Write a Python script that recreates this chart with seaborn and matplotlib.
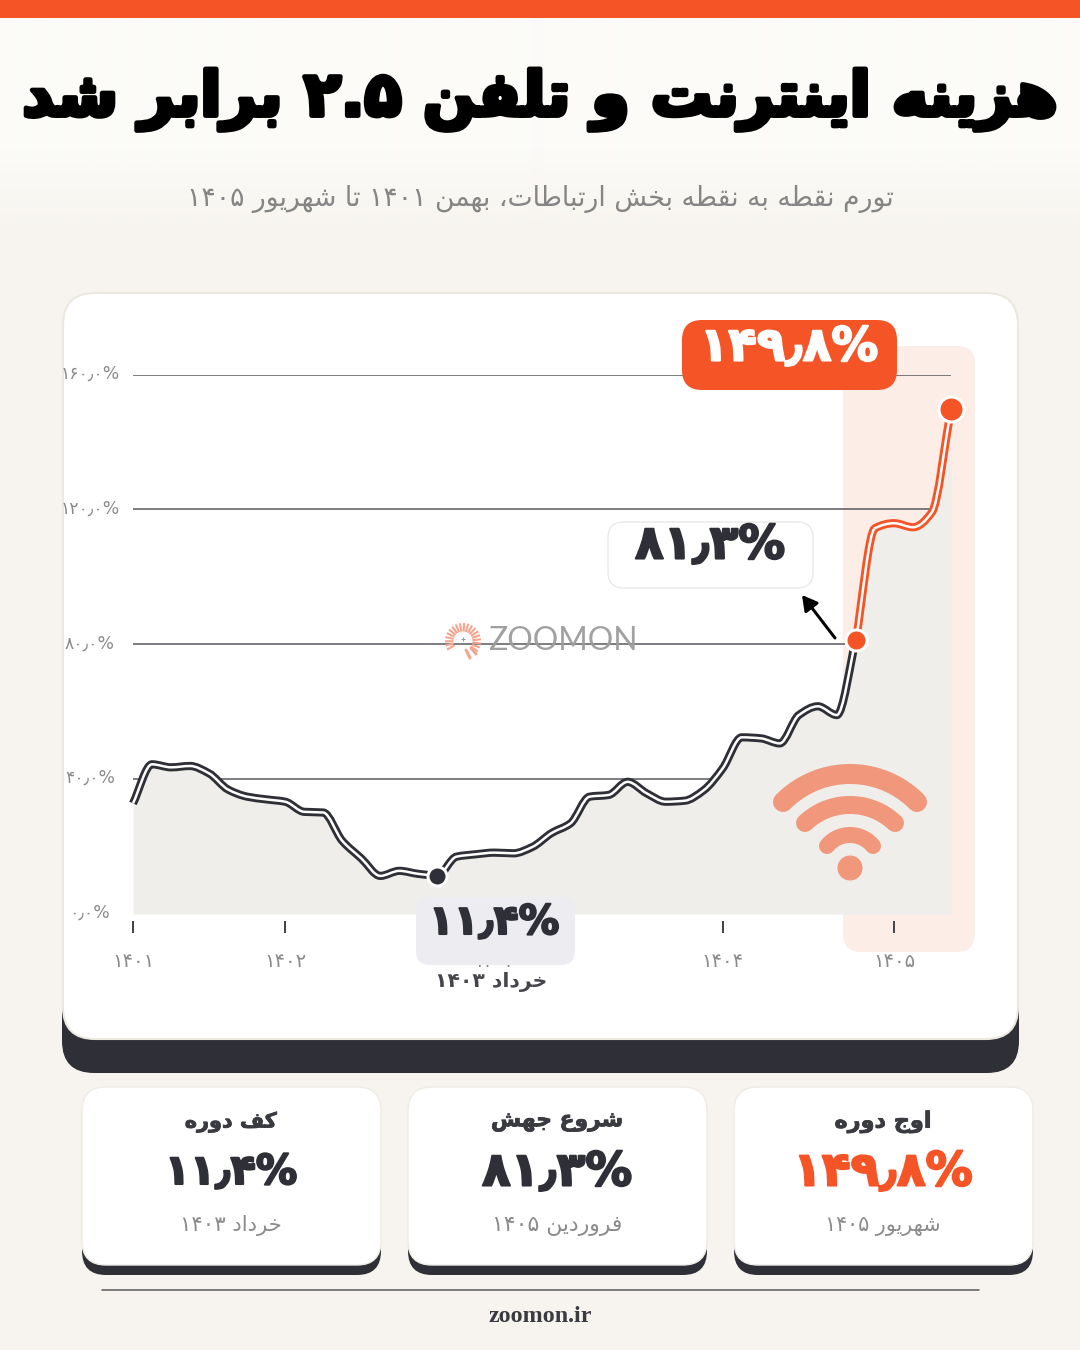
import numpy as np
import matplotlib
matplotlib.use("Agg")
import matplotlib.pyplot as plt
import matplotlib.patheffects as pe
from matplotlib.patches import FancyBboxPatch, Rectangle, Circle, FancyArrowPatch
from matplotlib.path import Path
from matplotlib.colors import to_rgb
from matplotlib.transforms import IdentityTransform, ScaledTranslation
import seaborn as sns

# ---------- data ----------
inflation = [32.8, 44.4, 43.5, 43.9, 41.7, 36.9, 34.8, 34.0, 33.3, 30.3, 30.1, 21.7,
             16.5, 11.3, 12.8, 11.9, 11.4, 17.0, 17.7, 18.2, 18.0, 19.9, 24.0, 26.9,
             34.8, 35.3, 39.2, 35.8, 33.3, 33.6, 36.7, 43.2, 52.4, 52.1, 50.6, 59.0,
             61.6, 59.0, 81.3, 114.4, 115.9, 114.7, 119.2, 149.8]
low_idx, jump_idx, peak_idx = 16, 38, 43
y_ticks = [0, 40, 80, 120, 160]
y_labels = ["۰٫۰%", "۴۰٫۰%", "۸۰٫۰%", "۱۲۰٫۰%", "۱۶۰٫۰%"]
x_ticks = [0, 8, 19, 31, 40]
x_labels = ["۱۴۰۱", "۱۴۰۲", "۱۴۰۳", "۱۴۰۴", "۱۴۰۵"]
title = "هزینه اینترنت و تلفن ۲.۵ برابر شد"
subtitle = "تورم نقطه به نقطه بخش ارتباطات، بهمن ۱۴۰۱ تا شهریور ۱۴۰۵"
low_note = "خرداد ۱۴۰۳"
low_val, jump_val, peak_val = "۱۱٫۴%", "۸۱٫۳%", "۱۴۹٫۸%"
card_heads = ["کف دوره", "شروع جهش", "اوج دوره"]
card_values = [low_val, jump_val, peak_val]
card_dates = ["خرداد ۱۴۰۳", "فروردین ۱۴۰۵", "شهریور ۱۴۰۵"]

# ---------- colours ----------
BG = "#F7F4EF"; ORANGE = "#F55427"; DARK = "#2F3037"; FILL = "#EFEEEA"; PINK = "#FDEDE7"
GRAY = "#8B8B8B"; WIFI = "#F0977C"; LOWBOX = "#ECECF1"

# ---------- Persian shaping (matplotlib has no shaping or bidi) ----------
FORMS = {
 "ا": (0xFE8D, 0xFE8E), "د": (0xFEA9, 0xFEAA), "ر": (0xFEAD, 0xFEAE), "ز": (0xFEAF, 0xFEB0), "و": (0xFEED, 0xFEEE),
 "ب": (0xFE8F, 0xFE90, 0xFE91, 0xFE92), "ت": (0xFE95, 0xFE96, 0xFE97, 0xFE98),
 "ج": (0xFE9D, 0xFE9E, 0xFE9F, 0xFEA0), "خ": (0xFEA5, 0xFEA6, 0xFEA7, 0xFEA8),
 "ش": (0xFEB5, 0xFEB6, 0xFEB7, 0xFEB8), "ط": (0xFEC1, 0xFEC2, 0xFEC3, 0xFEC4),
 "ع": (0xFEC9, 0xFECA, 0xFECB, 0xFECC), "ف": (0xFED1, 0xFED2, 0xFED3, 0xFED4),
 "ق": (0xFED5, 0xFED6, 0xFED7, 0xFED8), "ک": (0xFB8E, 0xFB8F, 0xFB90, 0xFB91),
 "ل": (0xFEDD, 0xFEDE, 0xFEDF, 0xFEE0), "م": (0xFEE1, 0xFEE2, 0xFEE3, 0xFEE4),
 "ن": (0xFEE5, 0xFEE6, 0xFEE7, 0xFEE8), "ه": (0xFEE9, 0xFEEA, 0xFEEB, 0xFEEC),
 "ی": (0xFBFC, 0xFBFD, 0xFBFE, 0xFBFF),
}
def shape(s):
    out = []
    for i, c in enumerate(s):
        f = FORMS.get(c)
        if f is None:
            out.append(c); continue
        prev = s[i-1] if i else ""
        nxt = s[i+1] if i + 1 < len(s) else ""
        a = prev in FORMS and len(FORMS[prev]) == 4
        b = nxt in FORMS and len(f) == 4
        idx = (3 if b else 1) if a else (2 if b else 0)
        out.append(chr(f[idx]))
    return "".join(out)
def fa(s):
    s = shape(s)
    tokens, cur, ltr = [], "", None
    for c in s:
        is_ltr = c in "۰۱۲۳۴۵۶۷۸۹."
        if ltr is None or is_ltr == ltr:
            cur += c
        else:
            tokens.append((cur, ltr)); cur = c
        ltr = is_ltr
    tokens.append((cur, ltr))
    return "".join(t if l else t[::-1] for t, l in reversed(tokens))

# ---------- figure ----------
sns.set_theme(style="white")
plt.rcParams["font.family"] = ["DejaVu Sans"]
W, H = 1080, 1350
fig = plt.figure(figsize=(10.8, 13.5), dpi=100, facecolor=BG)
px = 0.72  # points per pixel

def overlay(z):
    a = fig.add_axes([0, 0, 1, 1], zorder=z)
    a.set_xlim(0, W); a.set_ylim(H, 0); a.axis("off"); a.patch.set_alpha(0)
    return a
bg = overlay(0)
fg = overlay(2)

def rbox(a, x0, y0, x1, y1, r, fc, ec="none", lw=0, z=1):
    p = FancyBboxPatch((x0, y0), x1 - x0, y1 - y0, boxstyle=f"round,pad=0,rounding_size={r}",
                       fc=fc, ec=ec, lw=lw, zorder=z, mutation_aspect=1)
    a.add_patch(p)
    return p

renderer = fig.canvas.get_renderer()
def ftext(a, cx, cy, s, width, color, bold=False, family="DejaVu Sans", z=5, heavy=0, **kw):
    t = a.text(cx, cy, s, ha="center", va="center", color=color, fontsize=20,
               fontweight="bold" if bold else "normal", family=family, zorder=z, **kw)
    w = t.get_window_extent(renderer).width
    t.set_fontsize(20 * width / w)
    if heavy:
        t.set_path_effects([pe.withStroke(linewidth=heavy, foreground=color)])
    return t

# soft light glow behind the headline
rows = np.arange(18, 240)
alpha = np.clip((235 - rows) / 85, 0, 1)
glow = np.zeros((len(rows), 1, 4))
glow[..., :3] = to_rgb("#FCFBF8")
glow[:, 0, 3] = alpha
bg.imshow(glow, extent=(0, W, 240, 18), aspect="auto", zorder=1, interpolation="bilinear")
bg.set_xlim(0, W); bg.set_ylim(H, 0)

bg.add_patch(Rectangle((0, 0), W, 18, fc=ORANGE, ec="none", zorder=3))
rbox(bg, 62, 320, 1019, 1073, 32, DARK, z=1)
rbox(bg, 63, 293, 1018, 1039, 32, "white", ec="#EBE8E1", lw=1.5, z=2)
rbox(bg, 843, 346, 975, 952, 18, PINK, z=3)

for x0 in (82, 408, 734):
    rbox(bg, x0, 1110, x0 + 299, 1275, 24, DARK, z=1)
    rbox(bg, x0, 1087, x0 + 299, 1265, 24, "white", ec="#EFECE6", lw=1, z=2)
bg.plot([102, 979], [1290, 1290], color="#55555A", lw=1.5 * px, zorder=2)

# chart axes
top, base, tick_base = 374.5, 914.0, 921.0
unit = (base - top) / 160
ylow = -(tick_base - base) / unit
ax = fig.add_axes([133 / W, 1 - tick_base / H, (951 - 133) / W, (tick_base - top) / H], zorder=1)
ax.patch.set_alpha(0)
idx = np.arange(len(inflation))
vals = np.array(inflation)
ax.fill_between(idx, 0, vals, color=FILL, lw=0, zorder=2)

class SmoothStroke(pe.AbstractPathEffect):
    """Draws the line's own vertices as a monotone cubic curve, in display space."""
    def __init__(self, width, color):
        super().__init__()
        self.width, self.color = width, color
    def draw_path(self, renderer, gc, tpath, affine, rgbFace=None):
        v = affine.transform(tpath.vertices)
        dx = np.diff(v[:, 0]); dy = np.diff(v[:, 1]); s = dy / dx
        m = np.zeros(len(v))
        for i in range(1, len(v) - 1):
            if s[i - 1] * s[i] > 0:
                m[i] = 2 * s[i - 1] * s[i] / (s[i - 1] + s[i])
        m[0], m[-1] = s[0], s[-1]
        verts, codes = [tuple(v[0])], [Path.MOVETO]
        for i in range(len(dx)):
            h = dx[i] / 3
            verts += [(v[i, 0] + h, v[i, 1] + m[i] * h), (v[i + 1, 0] - h, v[i + 1, 1] - m[i + 1] * h), tuple(v[i + 1])]
            codes += [Path.CURVE4] * 3
        g = renderer.new_gc()
        g.copy_properties(gc)
        g.set_linewidth(self.width)
        g.set_foreground(self.color)
        g.set_joinstyle("round")
        g.set_capstyle("butt")
        renderer.draw_path(g, Path(verts, codes), IdentityTransform())
        g.restore()

def dbl(i0, i1, col):
    sns.lineplot(x=idx[i0:i1], y=vals[i0:i1], ax=ax, color="white", lw=2.4 * px, zorder=4,
                 clip_on=False, errorbar=None,
                 path_effects=[SmoothStroke(8.2 * px, col), SmoothStroke(2.5 * px, "white")])
dbl(0, jump_idx + 1, DARK)
dbl(jump_idx, peak_idx + 1, ORANGE)

for i, col, ms in ((low_idx, DARK, 19), (jump_idx, ORANGE, 21), (peak_idx, ORANGE, 25)):
    ax.plot([i], [vals[i]], "o", color=col, ms=ms * px, mec="white", mew=3 * px, zorder=6, clip_on=False)

ax.set_xlim(0, 43); ax.set_ylim(ylow, 160)
ax.set_yticks(y_ticks, y_labels)
ax.set_xticks(x_ticks, x_labels)
ax.grid(axis="y", color="#55565A", lw=1.5 * px, zorder=1)
ax.set_axisbelow(True)
ax.yaxis.get_gridlines()[0].set_visible(False)
ax.grid(axis="x", visible=False)
for s in ax.spines.values():
    s.set_visible(False)
ax.tick_params(axis="y", length=0, pad=43 * px, labelsize=12.4, labelcolor=GRAY)
ax.tick_params(axis="x", length=12 * px, width=2 * px, color="#45464B", pad=19 * px,
               labelsize=14, labelcolor=GRAY, bottom=True)
up = ScaledTranslation(0, 3 / 100, fig.dpi_scale_trans)
for lab in ax.get_yticklabels():
    lab.set_ha("center")
    lab.set_transform(lab.get_transform() + up)
ax.set_xlabel(""); ax.set_ylabel("")

# headings
ftext(fg, 540, 100, fa(title), 1034, "black", bold=True, heavy=3.5)
ftext(fg, 540, 199, fa(subtitle), 704, "#858585")

# value callouts
rbox(fg, 682, 320, 897, 390, 20, ORANGE, z=3)
ftext(fg, 789, 348, peak_val, 178, "white", bold=True, heavy=1.5)
rbox(fg, 608, 522, 813, 588, 16, "white", ec="#E9E9E9", lw=1, z=3)
ftext(fg, 710, 546, jump_val, 150, DARK, bold=True, heavy=1.5)
rbox(fg, 416, 897, 575, 965, 14, LOWBOX, z=3)
ftext(fg, 494, 923, low_val, 130, DARK, bold=True, heavy=1.5)
ftext(fg, 491, 982, fa(low_note), 112, "#45464B", bold=True)

fg.add_patch(FancyArrowPatch((835, 638), (802, 595), arrowstyle="-|>,head_length=5,head_width=2.8",
                             color="black", lw=3 * px, mutation_scale=1.8, zorder=5, shrinkA=0, shrinkB=0))

# wifi glyph
for (x0, x1, ye, yt, lw) in ((783, 917, 802, 774, 20), (805, 895, 823, 805, 18), (827, 873, 846, 835, 16)):
    hw, h = (x1 - x0) / 2, ye - yt
    R = (h * h + hw * hw) / (2 * h)
    th = np.linspace(-np.arcsin(hw / R), np.arcsin(hw / R), 60)
    fg.plot((x0 + x1) / 2 + R * np.sin(th), yt + R - R * np.cos(th), color=WIFI, lw=lw * px,
            solid_capstyle="round", zorder=4)
fg.add_patch(Circle((850, 868), 12.5, fc=WIFI, ec="none", zorder=4))

# watermark
sx, sy = 463, 641
for ang in np.arange(-35, 215, 13.5):
    a = np.deg2rad(ang)
    r0, r1 = 9.5, 18
    fg.plot([sx + r0 * np.cos(a), sx + r1 * np.cos(a)], [sy - r0 * np.sin(a), sy - r1 * np.sin(a)],
            color="#F5A48D", lw=2.1 * px, solid_capstyle="butt", zorder=4)
fg.plot([466, 470], [650, 658], color="#F5A48D", lw=3 * px, zorder=4)
fg.plot([471, 476], [648, 654], color="#F5A48D", lw=3 * px, zorder=4)
fg.plot([463], [639], "+", color="#8F95B2", ms=5 * px, mew=1 * px, zorder=4)
ftext(fg, 562.5, 641, "ZOOMON", 149, "#9C9C9C", family="Lato", z=4, alpha=0.95)

# bottom cards
centres = [231, 557, 883]
head_w = [92, 132, 97]
val_w = [132, 150, 179]
date_w = [102, 130, 115]
val_col = [DARK, DARK, ORANGE]
for c, h, hw, v, vw, d, dw, col in zip(centres, card_heads, head_w, card_values, val_w, card_dates, date_w, val_col):
    ftext(fg, c, 1122, fa(h), hw, "#3A3B40", bold=True, heavy=0.6)
    ftext(fg, c, 1173, v, vw, col, bold=True, heavy=1.5)
    ftext(fg, c, 1226, fa(d), dw, "#8B8B8B")
ftext(fg, 540, 1317, "zoomon.ir", 103, "#3A3B40", family="Liberation Serif", bold=True)

fig.savefig("out.png", dpi=100, facecolor=BG)
